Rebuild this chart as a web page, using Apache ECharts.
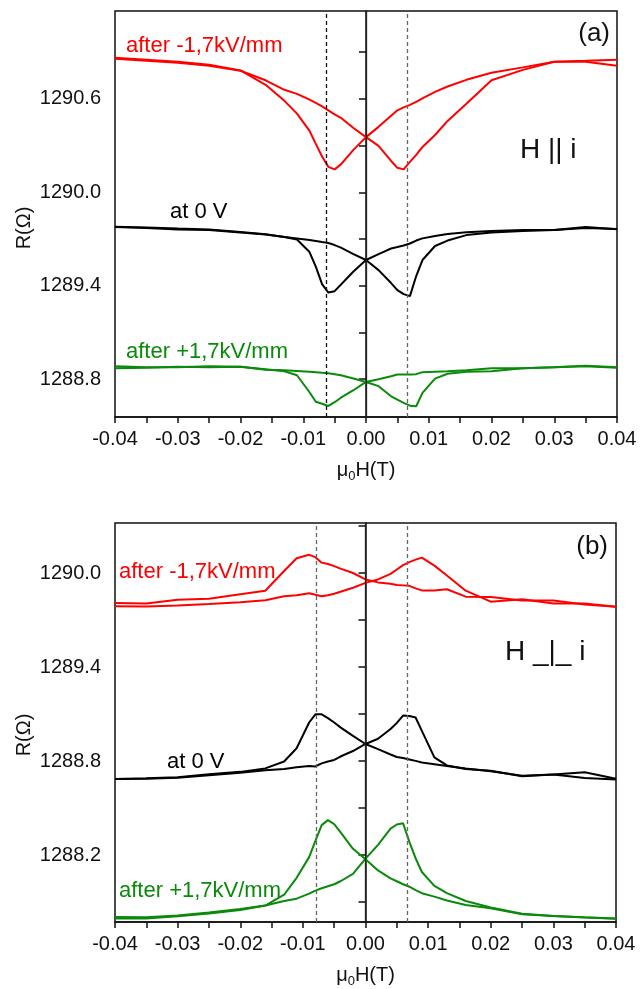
<!DOCTYPE html>
<html>
<head>
<meta charset="utf-8">
<script src="https://cdn.jsdelivr.net/npm/echarts@6/dist/echarts.min.js"></script>
<style>
html,body{margin:0;padding:0;background:#fff;}
#chart{width:640px;height:989px;}
</style>
</head>
<body>
<div id="chart"></div>
<script>
// ---- data (field in T, resistance in Ohm) ----
const fieldT = [-0.04,-0.035,-0.03,-0.025,-0.02,-0.016,-0.013,-0.011,-0.009,-0.008,-0.007,-0.006,-0.005,-0.004,-0.002,0,0.002,0.004,0.005,0.006,0.007,0.008,0.009,0.011,0.013,0.016,0.02,0.025,0.03,0.035,0.04];

// panel (a): H || i
const aRedUp   = [1290.864,1290.851,1290.838,1290.819,1290.782,1290.690,1290.587,1290.505,1290.394,1290.311,1290.230,1290.163,1290.147,1290.179,1290.272,1290.354,1290.420,1290.491,1290.526,1290.545,1290.561,1290.581,1290.603,1290.645,1290.679,1290.722,1290.767,1290.802,1290.838,1290.844,1290.851];
const aRedDown = [1290.857,1290.844,1290.831,1290.812,1290.780,1290.719,1290.658,1290.632,1290.595,1290.574,1290.552,1290.526,1290.500,1290.478,1290.413,1290.354,1290.298,1290.201,1290.157,1290.147,1290.195,1290.240,1290.291,1290.368,1290.458,1290.568,1290.719,1290.786,1290.838,1290.838,1290.812];
const aBlkUp   = [1289.779,1289.774,1289.767,1289.761,1289.745,1289.730,1289.713,1289.697,1289.616,1289.523,1289.410,1289.356,1289.365,1289.407,1289.491,1289.565,1289.603,1289.639,1289.648,1289.658,1289.671,1289.690,1289.704,1289.719,1289.732,1289.743,1289.751,1289.758,1289.758,1289.777,1289.762];
const aBlkDown = [1289.777,1289.770,1289.761,1289.758,1289.742,1289.729,1289.713,1289.703,1289.693,1289.687,1289.680,1289.674,1289.661,1289.645,1289.603,1289.565,1289.500,1289.417,1289.372,1289.346,1289.333,1289.462,1289.565,1289.655,1289.690,1289.725,1289.742,1289.751,1289.758,1289.770,1289.764];
const aGrnUp   = [1288.870,1288.873,1288.880,1288.877,1288.880,1288.864,1288.851,1288.825,1288.716,1288.655,1288.642,1288.628,1288.652,1288.681,1288.729,1288.782,1288.800,1288.819,1288.830,1288.830,1288.830,1288.832,1288.845,1288.848,1288.851,1288.857,1288.870,1288.870,1288.877,1288.886,1288.877];
const aGrnDown = [1288.883,1288.877,1288.877,1288.883,1288.880,1288.861,1288.857,1288.853,1288.848,1288.845,1288.841,1288.838,1288.832,1288.825,1288.804,1288.782,1288.755,1288.690,1288.668,1288.648,1288.630,1288.626,1288.712,1288.803,1288.835,1288.848,1288.851,1288.870,1288.877,1288.883,1288.873];

// panel (b): H _|_ i
const bRedUp   = [1289.809,1289.805,1289.830,1289.836,1289.865,1289.887,1290.013,1290.094,1290.116,1290.101,1290.066,1290.057,1290.044,1290.028,1290.000,1289.959,1289.940,1289.931,1289.924,1289.921,1289.918,1289.902,1289.889,1289.889,1289.896,1289.849,1289.847,1289.824,1289.824,1289.799,1289.784];
const bRedDown = [1289.788,1289.786,1289.792,1289.802,1289.814,1289.826,1289.851,1289.858,1289.871,1289.861,1289.852,1289.858,1289.868,1289.880,1289.906,1289.937,1289.959,1289.994,1290.022,1290.050,1290.069,1290.085,1290.098,1290.047,1289.984,1289.887,1289.817,1289.833,1289.805,1289.805,1289.784];
const bBlkUp   = [1288.686,1288.690,1288.697,1288.716,1288.731,1288.753,1288.797,1288.882,1289.046,1289.098,1289.098,1289.074,1289.046,1289.015,1288.961,1288.909,1288.876,1288.842,1288.826,1288.819,1288.810,1288.801,1288.791,1288.780,1288.769,1288.753,1288.735,1288.706,1288.714,1288.692,1288.682];
const bBlkDown = [1288.686,1288.687,1288.694,1288.709,1288.725,1288.741,1288.750,1288.760,1288.769,1288.766,1288.785,1288.797,1288.807,1288.829,1288.864,1288.909,1288.942,1289.005,1289.043,1289.090,1289.087,1289.078,1288.993,1288.823,1288.772,1288.749,1288.738,1288.703,1288.714,1288.728,1288.687];
const bGrnUp   = [1287.805,1287.803,1287.815,1287.834,1287.856,1287.878,1287.947,1288.055,1288.187,1288.291,1288.391,1288.423,1288.398,1288.347,1288.240,1288.174,1288.102,1288.051,1288.033,1288.014,1287.998,1287.976,1287.957,1287.935,1287.910,1287.881,1287.861,1287.822,1287.811,1287.801,1287.794];
const bGrnDown = [1287.796,1287.796,1287.809,1287.828,1287.849,1287.878,1287.907,1287.922,1287.954,1287.973,1287.988,1288.001,1288.014,1288.033,1288.080,1288.177,1288.265,1288.369,1288.395,1288.403,1288.284,1288.180,1288.092,1288.004,1287.957,1287.907,1287.866,1287.825,1287.812,1287.803,1287.796];

// axes / ticks
const xLabels = [-0.04,-0.03,-0.02,-0.01,0,0.01,0.02,0.03,0.04];
const xTicks  = [-0.04,-0.035,-0.03,-0.025,-0.02,-0.015,-0.01,-0.005,0,0.005,0.01,0.015,0.02,0.025,0.03,0.035,0.04];
const aYLabels = [1288.8,1289.4,1290.0,1290.6];
const aYTicks  = [1288.8,1289.1,1289.4,1289.7,1290.0,1290.3,1290.6,1290.9];
const bYLabels = [1288.2,1288.8,1289.4,1290.0];
const bYTicks  = [1287.9,1288.2,1288.5,1288.8,1289.1,1289.4,1289.7,1290.0,1290.3];
const aYRange = [1288.557,1291.164];
const bYRange = [1287.773,1290.319];
// reference field lines (T)
const aMarkers = {zero:0, left:-0.0064, right:0.0066};
const bMarkers = {zero:0, left:-0.0079, right:0.0067};

const FONT = "'Liberation Sans', Arial, sans-serif";
const RED = '#ff0000', BLK = '#000000', GRN = '#0a8a0a';

function pairs(arr){ return fieldT.map((x,i)=>[x,arr[i]]); }

function xAxisCfg(gi){
  return {
    type:'value', gridIndex:gi, min:-0.04, max:0.04,
    name:'{m|μ}{s|0}{m|H(T)}', nameLocation:'middle', nameGap:41,
    nameTextStyle:{rich:{m:{fontFamily:FONT,fontSize:20,color:'#111'},s:{fontFamily:FONT,fontSize:13,color:'#111',verticalAlign:'bottom',padding:[12,0,0,0]}}},
    axisLine:{show:true,lineStyle:{color:'#111',width:1.5}},
    axisTick:{show:true,inside:false,length:6,customValues:xTicks,lineStyle:{color:'#111',width:1.5}},
    axisLabel:{show:true,customValues:xLabels,margin:12,fontFamily:FONT,fontSize:20,color:'#111',formatter:v=>Number(v).toFixed(2)},
    splitLine:{show:false}
  };
}
function yAxisCfg(gi,range,labels,ticks){
  return {
    type:'value', gridIndex:gi, min:range[0], max:range[1],
    axisLine:{show:true,lineStyle:{color:'#111',width:1.5}},
    axisTick:{show:true,inside:false,length:7,customValues:ticks,lineStyle:{color:'#111',width:1.5}},
    axisLabel:{show:true,customValues:labels,margin:14,fontFamily:FONT,fontSize:20,color:'#111',formatter:v=>Number(v).toFixed(1)},
    splitLine:{show:false}
  };
}
function line(gi,arr,color,mark){
  const s = {
    type:'line', xAxisIndex:gi, yAxisIndex:gi, data:pairs(arr),
    showSymbol:false, symbol:'none', smooth:false,
    lineStyle:{color:color,width:2}, itemStyle:{color:color}, z:3
  };
  if(mark){
    s.markLine = {
      silent:true, symbol:['none','none'], label:{show:false}, animation:false, precision:6,
      data:[
        {xAxis:mark.zero, lineStyle:{type:'solid',color:'#222',width:1.3}},
        {xAxis:mark.left, lineStyle:{type:[4,3],color:mark.leftColor,width:1.3}},
        {xAxis:mark.right, lineStyle:{type:[4,3],color:'#666',width:1.3}}
      ]
    };
  }
  return s;
}

function txt(x,y,t,color,size,align){
  return {type:'text', x:x, y:y, style:{text:t, fill:color, font:size+'px '+FONT, textAlign:align||'left', textVerticalAlign:'middle'}, z:10};
}

const chart = echarts.init(document.getElementById('chart'));
chart.setOption({
  backgroundColor:'#fff',
  animation:false,
  grid:[
    {left:115, top:11, width:502, height:406, show:true, borderColor:'#111', borderWidth:1.5, containLabel:false},
    {left:115, top:523, width:501, height:405, show:true, borderColor:'#111', borderWidth:1.5, containLabel:false}
  ],
  xAxis:[xAxisCfg(0), xAxisCfg(1)],
  yAxis:[yAxisCfg(0,aYRange,aYLabels,aYTicks), yAxisCfg(1,bYRange,bYLabels,bYTicks)],
  series:[
    line(0,aRedUp,RED,Object.assign({leftColor:'#111'},aMarkers)),
    line(0,aRedDown,RED),
    line(0,aBlkUp,BLK),
    line(0,aBlkDown,BLK),
    line(0,aGrnUp,GRN),
    line(0,aGrnDown,GRN),
    line(1,bRedUp,RED,Object.assign({leftColor:'#666'},bMarkers)),
    line(1,bRedDown,RED),
    line(1,bBlkUp,BLK),
    line(1,bBlkDown,BLK),
    line(1,bGrnUp,GRN),
    line(1,bGrnDown,GRN)
  ],
  graphic:[
    {type:'text', x:24, y:228, rotation:Math.PI/2, style:{text:'R(Ω)', fill:'#111', font:'20px '+FONT, textAlign:'center', textVerticalAlign:'middle'}},
    {type:'text', x:24, y:735, rotation:Math.PI/2, style:{text:'R(Ω)', fill:'#111', font:'20px '+FONT, textAlign:'center', textVerticalAlign:'middle'}},
    txt(126,46,'after -1,7kV/mm',RED,22),
    txt(170,212,'at 0 V',BLK,22),
    txt(126,352,'after +1,7kV/mm',GRN,22),
    txt(610,34,'(a)','#111',26,'right'),
    txt(520,150,'H || i','#111',28),
    txt(119,572,'after -1,7kV/mm',RED,22),
    txt(167,762,'at 0 V',BLK,22),
    txt(119,891,'after +1,7kV/mm',GRN,22),
    txt(608,547,'(b)','#111',26,'right'),
    txt(505,652,'H _|_ i','#111',28)
  ]
});
</script>
</body>
</html>
